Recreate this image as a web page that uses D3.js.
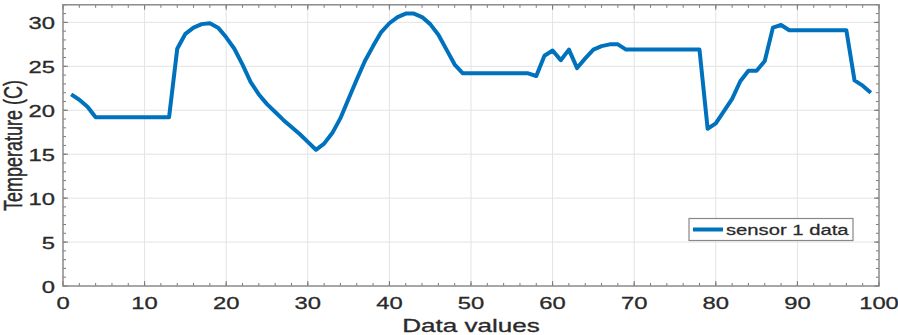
<!DOCTYPE html>
<html>
<head>
<meta charset="utf-8">
<script src="https://cdn.jsdelivr.net/npm/d3@7"></script>
<style>
  body { margin: 0; background: white; }
  svg { display: block; }
</style>
</head>
<body>
<div id="chart"></div>
<script>
// temperature readings, one per sample (samples 1..99)
let temps = [
  21.8, 21.2, 20.4, 19.2, 19.2, 19.2, 19.2, 19.2, 19.2, 19.2,
  19.2, 19.2, 19.2, 27.0, 28.7, 29.4, 29.8, 29.9, 29.4, 28.3,
  27.0, 25.2, 23.2, 21.8, 20.7, 19.8, 18.9, 18.1, 17.3, 16.4,
  15.5, 16.2, 17.4, 19.1, 21.3, 23.5, 25.6, 27.3, 28.9, 29.9,
  30.6, 31.0, 31.0, 30.6, 29.8, 28.6, 26.9, 25.2, 24.2, 24.2,
  24.2, 24.2, 24.2, 24.2, 24.2, 24.2, 24.2, 23.9, 26.2, 26.8,
  25.7, 26.9, 24.8, 25.9, 26.9, 27.3, 27.5, 27.5, 26.9, 26.9,
  26.9, 26.9, 26.9, 26.9, 26.9, 26.9, 26.9, 26.9, 17.9, 18.5,
  19.9, 21.3, 23.3, 24.5, 24.5, 25.6, 29.4, 29.7, 29.1, 29.1,
  29.1, 29.1, 29.1, 29.1, 29.1, 29.1, 23.4, 22.8, 22.0
];
let xTicks = [0, 10, 20, 30, 40, 50, 60, 70, 80, 90, 100];
let yTicks = [0, 5, 10, 15, 20, 25, 30];
let xMinor = d3.range(0, 101, 2);
let yMinor = d3.range(0, 33, 1);
let seriesName = "sensor 1 data";

let w = 898;
let h = 335;
let pLeft = 63, pRight = 879, pTop = 4.8, pBottom = 286;
let sx = 1.4; // the picture is stretched sideways, so is the text
let textColor = "#2a2a2a";
let blue = "#0072BD";

let svg = d3.select("#chart").append("svg")
  .attr("width", w)
  .attr("height", h);

let x = d3.scaleLinear().domain([0, 100]).range([pLeft, pRight]);
let y = d3.scaleLinear().domain([0, 32]).range([pBottom, pTop]);

// grid
let grid = svg.append("g").attr("class", "grid");
grid.selectAll(null).data(xTicks.slice(1, -1)).enter().append("line")
  .attr("x1", d => x(d)).attr("x2", d => x(d))
  .attr("y1", pTop).attr("y2", pBottom)
  .attr("stroke", "#e3e3e3").attr("stroke-width", 1);
grid.selectAll(null).data(yTicks.slice(1)).enter().append("line")
  .attr("x1", pLeft).attr("x2", pRight)
  .attr("y1", d => y(d)).attr("y2", d => y(d))
  .attr("stroke", "#e3e3e3").attr("stroke-width", 1);

// inward ticks on all four sides
let tickColor = "#7a7a7a";
let ticks = svg.append("g").attr("class", "ticks");
function xTickLines(vals, len) {
  ticks.selectAll(null).data(vals).enter().append("line")
    .attr("x1", d => x(d)).attr("x2", d => x(d))
    .attr("y1", pBottom).attr("y2", pBottom - len)
    .attr("stroke", tickColor);
  ticks.selectAll(null).data(vals).enter().append("line")
    .attr("x1", d => x(d)).attr("x2", d => x(d))
    .attr("y1", pTop).attr("y2", pTop + len)
    .attr("stroke", tickColor);
}
function yTickLines(vals, len) {
  ticks.selectAll(null).data(vals).enter().append("line")
    .attr("x1", pLeft).attr("x2", pLeft + len)
    .attr("y1", d => y(d)).attr("y2", d => y(d))
    .attr("stroke", tickColor);
  ticks.selectAll(null).data(vals).enter().append("line")
    .attr("x1", pRight).attr("x2", pRight - len)
    .attr("y1", d => y(d)).attr("y2", d => y(d))
    .attr("stroke", tickColor);
}
xTickLines(xMinor, 3);
xTickLines(xTicks, 5);
yTickLines(yMinor, 3);
yTickLines(yTicks, 5);

// frame
svg.append("rect")
  .attr("x", pLeft).attr("y", pTop)
  .attr("width", pRight - pLeft).attr("height", pBottom - pTop)
  .attr("fill", "none").attr("stroke", "#8a8a8a").attr("stroke-width", 1.5);

// tick labels
let fontFam = "'Liberation Sans', Arial, Helvetica, sans-serif";
svg.append("g").selectAll("text").data(xTicks).enter().append("text")
  .attr("transform", d => `translate(${x(d)},309) scale(${sx},1)`)
  .attr("text-anchor", "middle")
  .attr("font-family", fontFam).attr("font-size", 17)
  .attr("fill", textColor).attr("stroke", textColor).attr("stroke-width", 0.3)
  .text(d => d);
svg.append("g").selectAll("text").data(yTicks).enter().append("text")
  .attr("transform", d => `translate(55,${y(d) + 7}) scale(${sx},1)`)
  .attr("text-anchor", "end")
  .attr("font-family", fontFam).attr("font-size", 17)
  .attr("fill", textColor).attr("stroke", textColor).attr("stroke-width", 0.3)
  .text(d => d);

// axis titles
svg.append("text")
  .attr("transform", `translate(${(pLeft + pRight) / 2},332) scale(1.45,1)`)
  .attr("text-anchor", "middle")
  .attr("font-family", fontFam).attr("font-size", 18)
  .attr("fill", textColor).attr("stroke", textColor).attr("stroke-width", 0.3)
  .text("Data values");
svg.append("text")
  .attr("transform", `translate(22,${(pTop + pBottom) / 2}) scale(1.45,1) rotate(-90)`)
  .attr("text-anchor", "middle")
  .attr("font-family", fontFam).attr("font-size", 18)
  .attr("fill", textColor).attr("stroke", textColor).attr("stroke-width", 0.3)
  .text("Temperature (C)");

// the series
let data = temps.map((t, i) => ({ n: i + 1, t: t }));
let line = d3.line().x(d => x(d.n)).y(d => y(d.t));
svg.append("path")
  .datum(data)
  .attr("d", line)
  .attr("fill", "none")
  .attr("stroke", blue)
  .attr("stroke-width", 4)
  .attr("stroke-linejoin", "round");

// legend
let lg = svg.append("g").attr("class", "legend");
lg.append("rect")
  .attr("x", 689).attr("y", 218.5)
  .attr("width", 164).attr("height", 22)
  .attr("fill", "white").attr("stroke", "#888").attr("stroke-width", 1.2);
lg.append("line")
  .attr("x1", 693).attr("x2", 723)
  .attr("y1", 229.5).attr("y2", 229.5)
  .attr("stroke", blue).attr("stroke-width", 4);
lg.append("text")
  .attr("transform", `translate(726,235) scale(1.35,1)`)
  .attr("font-family", fontFam).attr("font-size", 15)
  .attr("fill", textColor).attr("stroke", textColor).attr("stroke-width", 0.25)
  .text(seriesName);
</script>
</body>
</html>
